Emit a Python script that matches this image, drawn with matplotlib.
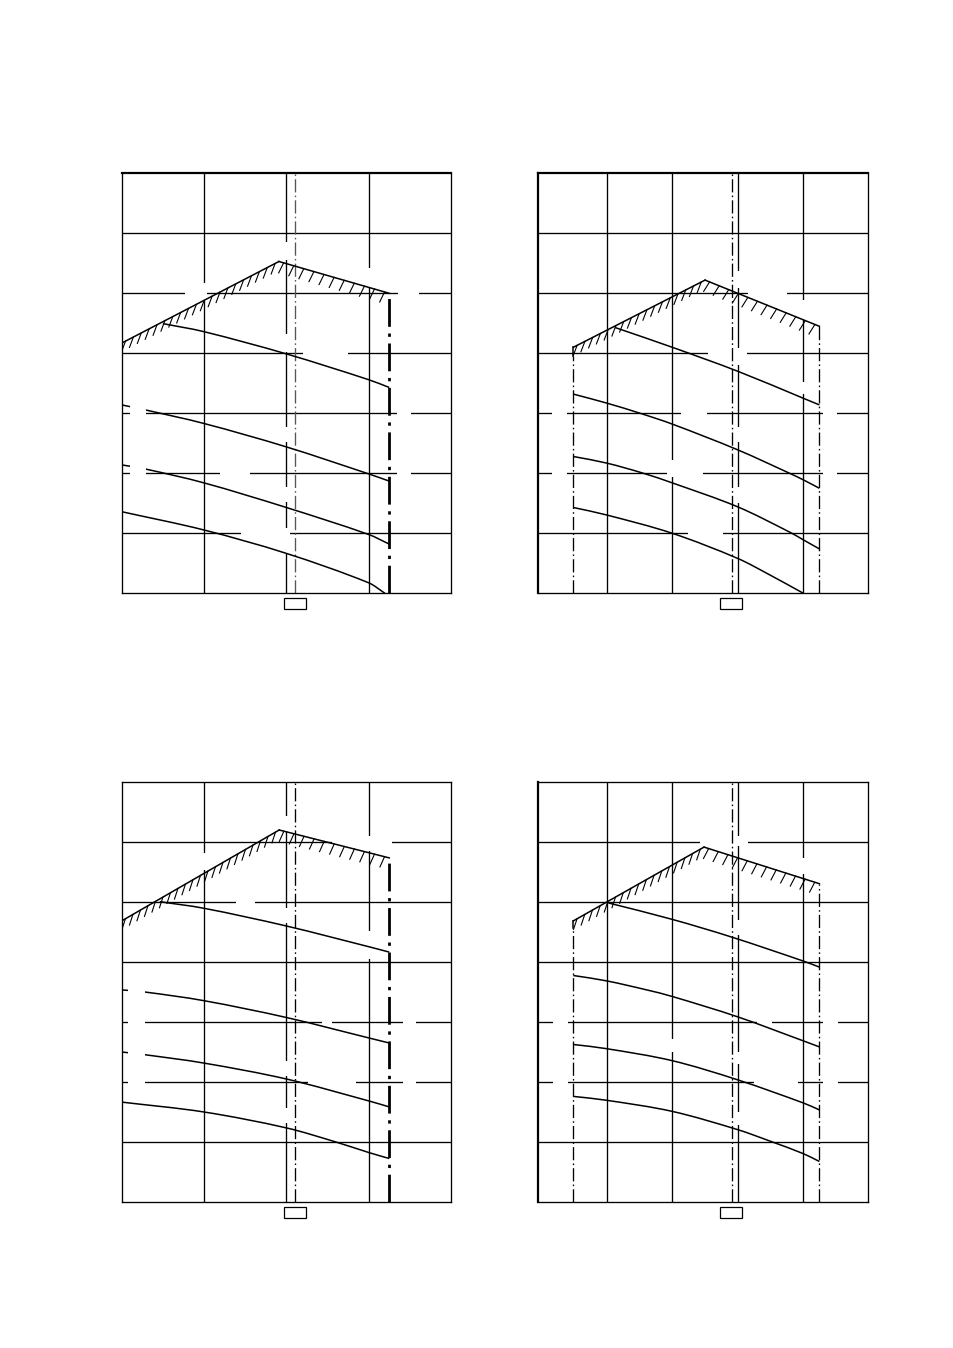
import numpy as np
import matplotlib
matplotlib.use("Agg")
import matplotlib.pyplot as plt
from matplotlib import patheffects as pe
from matplotlib.patches import Rectangle, PathPatch
from matplotlib.path import Path

# ---------------- data ----------------
# Panel A (top-left)
A_ENV_X = [0.0, 19.1, 32.5]
A_ENV_Y = [41.7, 55.3, 50.0]
A_C1_X = [5.0, 10.0, 20.0, 30.0, 32.5]
A_C1_Y = [44.95, 43.6, 39.9, 35.6, 34.3]
A_C2_X = [0.0, 2.92, 10.0, 20.0, 30.0, 32.5]
A_C2_Y = [31.4, 30.55, 28.3, 24.4, 19.9, 18.7]
A_C3_X = [0.0, 2.92, 10.0, 20.0, 30.0, 32.5]
A_C3_Y = [21.4, 20.7, 18.4, 14.3, 9.8, 8.2]
A_C4_X = [0.0, 10.0, 20.0, 30.0, 31.98]
A_C4_Y = [13.6, 10.55, 6.65, 1.75, 0.0]
A_REF_X = 21.1
A_LIMIT_X = 32.5

# Panel B (top-right)
B_ENV_X = [4.9, 25.0, 42.44]
B_ENV_Y = [41.0, 52.2, 44.5]
B_STUB_Y = 39.5
B_C1_X = [11.26, 20.0, 30.0, 40.0, 42.44]
B_C1_Y = [44.3, 41.0, 37.0, 32.5, 31.4]
B_C2_X = [4.9, 10.0, 15.1, 20.0, 30.0, 37.9, 40.0, 42.44]
B_C2_Y = [33.2, 31.7, 30.0, 28.2, 23.9, 20.0, 18.9, 17.5]
B_C3_X = [4.9, 10.0, 15.6, 20.0, 30.0, 37.9, 40.0, 42.44]
B_C3_Y = [22.8, 21.7, 20.0, 18.4, 14.4, 10.2, 8.9, 7.4]
B_C4_X = [4.9, 10.0, 20.0, 30.0, 34.9, 40.0]
B_C4_Y = [14.3, 13.05, 10.0, 5.8, 3.05, 0.0]
B_REF_X = 29.07

# Panel C (bottom-left)
C_ENV_X = [0.0, 19.13, 32.5]
C_ENV_Y = [46.8, 61.95, 57.3]
C_C1_X = [4.62, 10.0, 20.0, 30.0, 32.5]
C_C1_Y = [50.0, 48.9, 45.95, 42.5, 41.6]
C_C2_X = [0.0, 2.8, 10.0, 20.0, 30.0, 32.5]
C_C2_Y = [35.3, 34.95, 33.5, 30.7, 27.3, 26.45]
C_C3_X = [0.0, 2.8, 10.0, 20.0, 30.0, 32.5]
C_C3_Y = [24.95, 24.5, 23.1, 20.45, 16.8, 15.8]
C_C4_X = [0.0, 10.0, 20.0, 25.9, 30.0, 32.5]
C_C4_Y = [16.6, 14.95, 12.3, 10.0, 8.2, 7.2]
C_REF_X = 21.1
C_LIMIT_X = 32.5

# Panel D (bottom-right)
D_ENV_X = [4.9, 24.84, 42.44]
D_ENV_Y = [46.8, 59.1, 53.0]
D_STUB_Y = 45.7
D_C1_X = [10.24, 20.0, 29.07, 40.0, 42.44]
D_C1_Y = [49.8, 47.05, 44.1, 40.1, 39.1]
D_C2_X = [4.9, 10.0, 16.1, 20.0, 30.0, 40.0, 42.44]
D_C2_Y = [37.7, 36.8, 35.3, 34.2, 30.8, 26.8, 25.8]
D_C3_X = [4.9, 10.0, 20.0, 30.0, 40.0, 42.44]
D_C3_Y = [26.2, 25.5, 23.5, 20.3, 16.45, 15.3]
D_C4_X = [4.9, 10.0, 20.0, 30.0, 34.9, 40.0, 42.44]
D_C4_Y = [17.55, 16.9, 15.05, 12.0, 10.1, 8.0, 6.7]
D_REF_X = 29.07

# grid ticks
Y_TICKS = [10, 20, 30, 40, 50, 60]
X_TICKS_NARROW = [10, 20, 30]
X_TICKS_WIDE = [10, 20, 30, 40]

# ---------------- layout / style ----------------
W, H = 954, 1348
DPI = 100
LW_GRID = 0.95
LW_CURVE = 1.1
LW_THICK = 1.6
DASHDOT = (10, 2.4, 1.2, 2.4)

fig = plt.figure(figsize=(W / DPI, H / DPI), dpi=DPI)
fig.patch.set_facecolor("white")

def frac(l, t, r, b):
    return [l / W, 1 - b / H, (r - l) / W, (b - t) / H]

panels = [
    dict(rect=frac(121.7, 173.3, 451.0, 593.3), xlim=(0, 40), xt=X_TICKS_NARROW,
         env=(A_ENV_X, A_ENV_Y), curves=[(A_C1_X, A_C1_Y), (A_C2_X, A_C2_Y),
                                          (A_C3_X, A_C3_Y), (A_C4_X, A_C4_Y)],
         kind="narrow", ref=A_REF_X, refcol="#555555", limit=A_LIMIT_X,
         thick=("top",), box=(0.4924, 0.066),
         hgaps=[(50, 7.66, 10.0), (50, 33.6, 36.1), (40, 22.05, 27.5),
                (30, 33.4, 35.1), (20, 12.0, 15.6), (20, 33.4, 35.1),
                (10, 14.55, 19.8)],
         vgaps=[(10, 48.8, 51.7), (20, 55.5, 58.6), (20, 40.3, 43.3),
                (20, 25.3, 27.8), (20, 15.3, 17.8), (20, 6.7, 10.9),
                (30, 50.9, 54.2)],
         topgaps=[(1.06, 2.92, 29.4, 31.9), (1.06, 2.92, 19.4, 21.9)]),
    dict(rect=frac(538.3, 173.3, 868.3, 593.3), xlim=(-0.44, 49.9), xt=X_TICKS_WIDE,
         env=(B_ENV_X, B_ENV_Y), curves=[(B_C1_X, B_C1_Y), (B_C2_X, B_C2_Y),
                                          (B_C3_X, B_C3_Y), (B_C4_X, B_C4_Y)],
         kind="wide", ref=B_REF_X, stub=B_STUB_Y,
         thick=("top", "left"), box=(0.5515, 0.0667),
         hgaps=[(50, 31.6, 37.5), (40, 25.5, 31.4), (30, 1.6, 3.9), (30, 21.4, 25.3),
                (30, 43.0, 45.1), (20, 1.6, 3.9), (20, 19.2, 24.7), (20, 43.0, 45.1),
                (10, 22.4, 27.8)],
         vgaps=[(20, 19.4, 22.2), (30, 25.3, 27.8), (30, 15.0, 17.8), (30, 50.9, 53.7),
                (30, 38.1, 40.9), (40, 45.6, 48.9), (40, 33.3, 35.3)],
         topgaps=[]),
    dict(rect=frac(121.7, 781.7, 451.0, 1201.7), xlim=(0, 40), xt=X_TICKS_NARROW,
         env=(C_ENV_X, C_ENV_Y), curves=[(C_C1_X, C_C1_Y), (C_C2_X, C_C2_Y),
                                          (C_C3_X, C_C3_Y), (C_C4_X, C_C4_Y)],
         kind="narrow", ref=C_REF_X, refcol="black", limit=C_LIMIT_X,
         thick=(), box=(0.4924, 0.066),
         hgaps=[(60, 25.5, 32.8), (50, 13.9, 16.2), (30, 0.77, 2.8), (30, 24.3, 25.5),
                (30, 34.2, 35.8), (20, 0.77, 2.8), (20, 22.65, 28.5), (20, 34.2, 35.8)],
         vgaps=[(10, 55.3, 58.2), (20, 61.8, 64.3), (20, 46.5, 49.0), (20, 20.9, 23.4),
                (20, 13.1, 15.6), (30, 58.4, 60.9), (30, 40.4, 45.2)],
         topgaps=[(0.77, 2.8, 34.2, 36.3), (0.77, 2.8, 23.8, 25.9)]),
    dict(rect=frac(538.3, 781.7, 868.3, 1201.7), xlim=(-0.44, 49.9), xt=X_TICKS_WIDE,
         env=(D_ENV_X, D_ENV_Y), curves=[(D_C1_X, D_C1_Y), (D_C2_X, D_C2_Y),
                                          (D_C3_X, D_C3_Y), (D_C4_X, D_C4_Y)],
         kind="wide", ref=D_REF_X, stub=D_STUB_Y,
         thick=("left",), box=(0.5515, 0.0667),
         hgaps=[(60, 24.2, 31.6), (30, 1.85, 4.1), (30, 32.9, 35.2), (30, 43.0, 45.3),
                (20, 1.85, 4.1), (20, 32.4, 39.2), (20, 43.0, 45.3)],
         vgaps=[(20, 25.0, 27.2), (30, 44.5, 47.0), (30, 23.0, 25.0), (30, 12.8, 15.0),
                (30, 59.3, 61.0), (40, 54.6, 57.3)],
         topgaps=[]),
]

def white(ax, x0, x1, y0, y1, z):
    ax.add_patch(Rectangle((x0, y0), x1 - x0, y1 - y0, facecolor="white",
                           edgecolor="none", zorder=z))

def smooth_path(x, y):
    """Cubic Hermite path (Bezier segments) through the read points."""
    x = np.asarray(x, float)
    y = np.asarray(y, float)
    n = len(x)
    m = np.empty(n)
    for i in range(n):
        if i == 0:
            m[i] = (y[1] - y[0]) / (x[1] - x[0])
        elif i == n - 1:
            m[i] = (y[-1] - y[-2]) / (x[-1] - x[-2])
        else:
            m[i] = (y[i + 1] - y[i - 1]) / (x[i + 1] - x[i - 1])
    verts = [(x[0], y[0])]
    codes = [Path.MOVETO]
    for i in range(n - 1):
        h = x[i + 1] - x[i]
        verts += [(x[i] + h / 3, y[i] + m[i] * h / 3),
                  (x[i + 1] - h / 3, y[i + 1] - m[i + 1] * h / 3),
                  (x[i + 1], y[i + 1])]
        codes += [Path.CURVE4] * 3
    return Path(verts, codes)

for p in panels:
    ax = fig.add_axes(p["rect"])
    ax.set_xlim(*p["xlim"])
    ax.set_ylim(0, 70)
    ax.set_xticks(p["xt"])
    ax.set_yticks(Y_TICKS)
    ax.tick_params(length=0, labelbottom=False, labelleft=False)
    ax.set_axisbelow(True)
    ax.grid(True, color="black", lw=LW_GRID)
    for name, sp in ax.spines.items():
        sp.set_linewidth(LW_THICK if name in p["thick"] else LW_GRID)
        sp.set_zorder(6)

    xr = p["xlim"][1] - p["xlim"][0]
    dx = 3.2 / (p["rect"][2] * W) * xr
    for (y, x0, x1) in p["hgaps"]:
        white(ax, x0, x1, y - 0.5, y + 0.5, 2.5)
    for (x, y0, y1) in p["vgaps"]:
        white(ax, x - dx, x + dx, y0, y1, 2.5)

    ex, ey = p["env"]
    # hatched envelope: rising and falling legs
    ax.plot(ex[:2], ey[:2], color="black", lw=LW_CURVE, zorder=4,
            path_effects=[pe.withTickedStroke(spacing=6.2, angle=-138, length=1.3,
                                              linewidth=0.8)])
    ax.plot(ex[1:], ey[1:], color="black", lw=LW_CURVE, zorder=4,
            path_effects=[pe.withTickedStroke(spacing=7.0, angle=-100, length=1.15,
                                              linewidth=0.8)])
    for cx, cy in p["curves"]:
        ax.add_patch(PathPatch(smooth_path(cx, cy), fill=False, edgecolor="black",
                               lw=LW_CURVE, zorder=4, capstyle="butt"))

    if p["kind"] == "narrow":
        ax.plot([p["ref"], p["ref"]], [0, 70], color=p["refcol"], lw=LW_GRID,
                dashes=DASHDOT, zorder=3)
        ax.plot([p["limit"], p["limit"]], [0, ey[-1]], color="black", lw=2.0,
                dashes=DASHDOT, zorder=3)
    else:
        ax.plot([ex[0], ex[0]], [p["stub"], ey[0]], color="black", lw=LW_CURVE, zorder=4)
        ax.plot([ex[0], ex[0]], [0, p["stub"]], color="black", lw=LW_GRID,
                dashes=DASHDOT, zorder=3)
        ax.plot([ex[-1], ex[-1]], [0, ey[-1]], color="black", lw=LW_GRID,
                dashes=DASHDOT, zorder=3)
        ax.plot([p["ref"], p["ref"]], [0, 70], color="black", lw=LW_GRID,
                dashes=DASHDOT, zorder=3)

    for (x0, x1, y0, y1) in p["topgaps"]:
        white(ax, x0, x1, y0, y1, 5)

    bx, bw = p["box"]
    ax.add_patch(Rectangle((bx, -0.038), bw, 0.0262, transform=ax.transAxes,
                           facecolor="white", edgecolor="black", lw=0.9,
                           clip_on=False, zorder=6))

fig.savefig("out.png", dpi=DPI, facecolor="white")
